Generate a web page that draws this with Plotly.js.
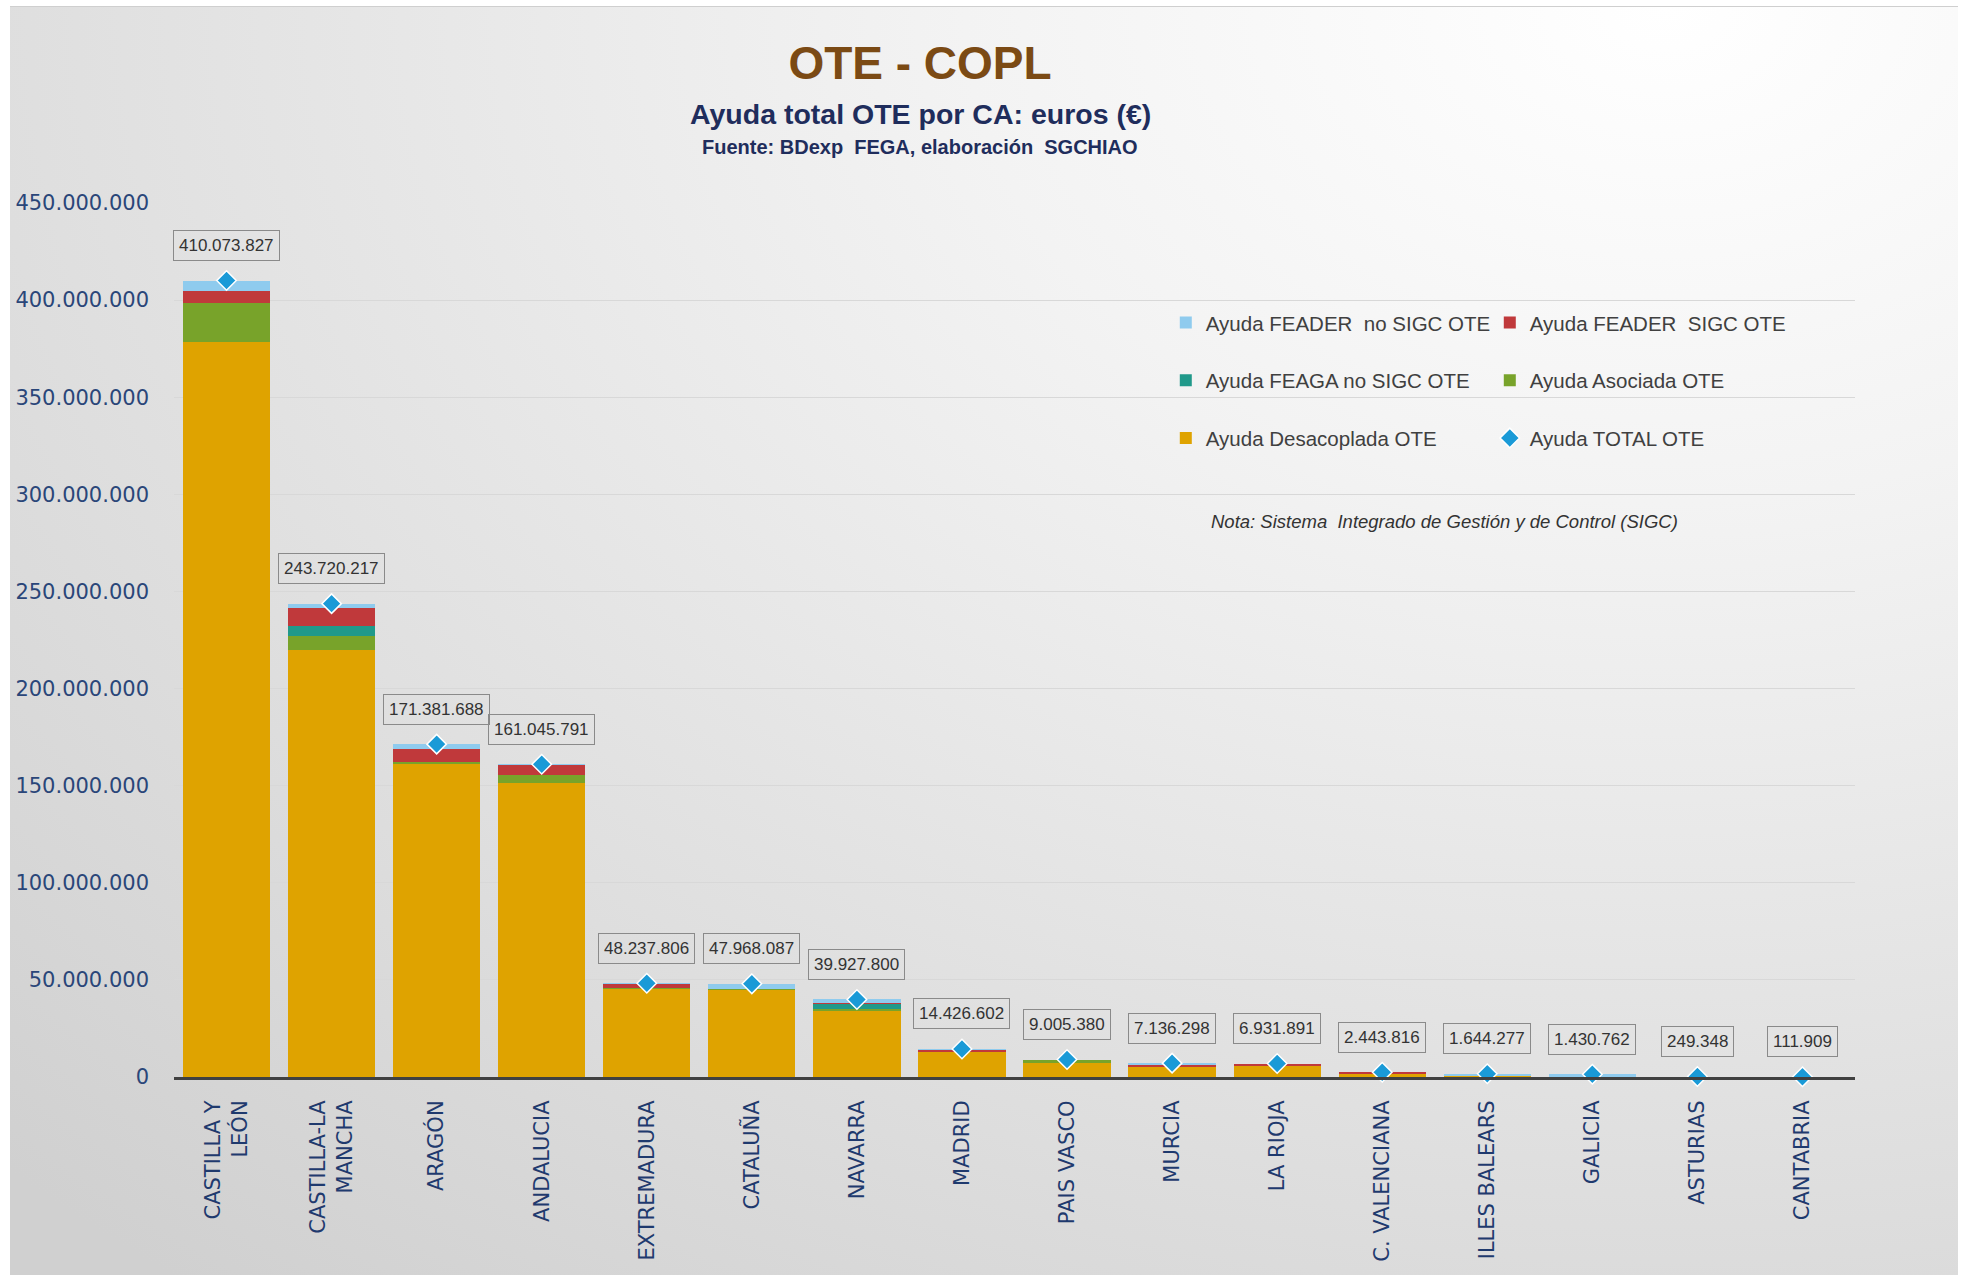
<!DOCTYPE html>
<html>
<head>
<meta charset="utf-8">
<script src="https://cdn.plot.ly/plotly-3.0.1.min.js"></script>
<style>
  html, body { margin: 0; padding: 0; background: #ffffff; }
  #bg { position: absolute; left: 10px; top: 6px; width: 1948px; height: 1268px;
        background: radial-gradient(ellipse 120% 130% at 85% 0%, #ffffff 0%, #f3f3f3 30%, #dedede 72%, #d0d0d0 100%);
        border-top: 1px solid #cfcfcf; }
  #chart { position: absolute; left: 0; top: 0; width: 1968px; height: 1277px; }
</style>
</head>
<body>
<div id="bg"></div>
<div id="chart"></div>
<script>
// ---- data ----
const categories = ['CASTILLA Y<br>LEÓN', 'CASTILLA-LA<br>MANCHA', 'ARAGÓN', 'ANDALUCIA', 'EXTREMADURA',
  'CATALUÑA', 'NAVARRA', 'MADRID', 'PAIS VASCO', 'MURCIA', 'LA RIOJA', 'C. VALENCIANA',
  'ILLES BALEARS', 'GALICIA', 'ASTURIAS', 'CANTABRIA'];

const totals = [410073827, 243720217, 171381688, 161045791, 48237806, 47968087, 39927800, 14426602,
  9005380, 7136298, 6931891, 2443816, 1644277, 1430762, 249348, 111909];

const desacoplada = [378500000, 219900000, 161300000, 151500000, 45500000, 44600000, 34000000, 13000000,
  7400000, 5000000, 5600000, 1400000, 300000, 200000, 150000, 60000];
const asociada = [19900000, 7300000, 1000000, 4000000, 300000, 600000, 1200000, 0,
  1200000, 0, 200000, 0, 0, 0, 0, 0];
const feagaNoSigc = [0, 5000000, 0, 0, 0, 0, 2400000, 0, 0, 0, 0, 0, 0, 0, 0, 0];
const feaderSigc = [6300000, 9100000, 6400000, 5000000, 2000000, 200000, 600000, 1000000,
  0, 1300000, 900000, 1000000, 0, 0, 0, 0];
const feaderNoSigc = [5373827, 2420217, 2681688, 545791, 437806, 2568087, 1727800, 426602,
  405380, 836298, 231891, 43816, 1344277, 1230762, 99348, 51909];

const seriesNames = {
  desacoplada: 'Ayuda Desacoplada OTE',
  asociada: 'Ayuda Asociada OTE',
  feaga: 'Ayuda FEAGA no SIGC OTE',
  feaderSigc: 'Ayuda FEADER\u00a0 SIGC OTE',
  feaderNo: 'Ayuda FEADER\u00a0 no SIGC OTE',
  total: 'Ayuda TOTAL OTE'
};

// ---- styles ----
const C = {
  desacoplada: '#DFA300', asociada: '#78A32A', feaga: '#20998A',
  feaderSigc: '#C0393B', feaderNo: '#8FCBEE', total: '#1A9AD7'
};

function bar(y, name, color, legend, rank) {
  return { type: 'bar', x: categories, y: y, name: name, legend: legend, legendrank: rank,
    marker: { color: color, line: { width: 0 } }, hoverinfo: 'skip' };
}

const traces = [
  bar(desacoplada, seriesNames.desacoplada, C.desacoplada, 'legend3', 1),
  bar(asociada, seriesNames.asociada, C.asociada, 'legend2', 2),
  bar(feagaNoSigc, seriesNames.feaga, C.feaga, 'legend2', 1),
  bar(feaderSigc, seriesNames.feaderSigc, C.feaderSigc, 'legend', 2),
  bar(feaderNoSigc, seriesNames.feaderNo, C.feaderNo, 'legend', 1),
  { type: 'scatter', mode: 'markers', x: categories, y: totals, name: seriesNames.total,
    legend: 'legend3', legendrank: 2, cliponaxis: false, hoverinfo: 'skip',
    marker: { symbol: 'diamond', size: 15, color: C.total, line: { color: '#ffffff', width: 1.5 } } }
];

const fmt = v => v.toString().replace(/\B(?=(\d{3})+(?!\d))/g, '.');

const annotations = categories.map((c, i) => ({
  x: c, y: totals[i], xref: 'x', yref: 'y', text: fmt(totals[i]), showarrow: false,
  yshift: 35, font: { family: 'Liberation Sans, Arial', size: 17, color: '#333333' },
  bordercolor: '#8a8a8a', borderwidth: 1, borderpad: 5, bgcolor: 'rgba(0,0,0,0)'
}));

annotations.push({
  xref: 'paper', yref: 'paper', x: 0.4438, y: 1.1018, xanchor: 'center', yanchor: 'middle',
  showarrow: false, text: '<b>Ayuda total OTE por CA: euros (€)</b>',
  font: { family: 'Liberation Sans, Arial', size: 28.5, color: '#1F2D5C' }
});
annotations.push({
  xref: 'paper', yref: 'paper', x: 0.4438, y: 1.0641, xanchor: 'center', yanchor: 'middle',
  showarrow: false, text: '<b>Fuente: BDexp\u00a0 FEGA, elaboración\u00a0 SGCHIAO</b>',
  font: { family: 'Liberation Sans, Arial', size: 20, color: '#1F2D5C' }
});
annotations.push({
  xref: 'paper', yref: 'paper', x: 0.756, y: 0.636, xanchor: 'center', yanchor: 'middle',
  showarrow: false, text: '<i>Nota: Sistema\u00a0 Integrado de Gestión y de Control (SIGC)</i>',
  font: { family: 'Liberation Sans, Arial', size: 18.5, color: '#333333' }
});

const legendBase = {
  orientation: 'h', xanchor: 'left', yanchor: 'middle', x: 0.590, traceorder: 'normal',
  bgcolor: 'rgba(0,0,0,0)', borderwidth: 0, itemwidth: 30,
  entrywidth: 279, entrywidthmode: 'pixels', itemclick: false, itemdoubleclick: false,
  font: { family: 'Liberation Sans, Arial', size: 20.5, color: '#404040' }
};

const layout = {
  width: 1968, height: 1277,
  margin: { l: 174, r: 113, t: 203, b: 200 },
  paper_bgcolor: 'rgba(0,0,0,0)', plot_bgcolor: 'rgba(0,0,0,0)',
  separators: ',.',
  barmode: 'stack', bargap: 0.17,
  title: { text: '<b>OTE - COPL</b>', x: 0.4675, xanchor: 'center', y: 0.9507, yanchor: 'middle',
    font: { family: 'Liberation Sans, Arial', size: 46, color: '#7B4A14' } },
  xaxis: {
    type: 'category', range: [-0.5, 15.5], tickangle: -90, showgrid: false, showline: true,
    linecolor: '#404040', linewidth: 3, ticks: '', ticklabelstandoff: 12,
    tickfont: { family: 'DejaVu Sans, Verdana', size: 21, color: '#1F3A6E' }
  },
  yaxis: {
    range: [0, 450000000], dtick: 50000000, tickformat: ',d', showline: false, zeroline: false,
    gridcolor: '#d8d8d8', gridwidth: 1, ticks: '', ticklabelstandoff: 24,
    tickfont: { family: 'DejaVu Sans, Verdana', size: 21, color: '#2A4679' }
  },
  legend: Object.assign({}, legendBase, { y: 0.863 }),
  legend2: Object.assign({}, legendBase, { y: 0.797 }),
  legend3: Object.assign({}, legendBase, { y: 0.731 }),
  annotations: annotations,
  showlegend: true
};

Plotly.newPlot('chart', traces, layout, { displayModeBar: false, staticPlot: true });
</script>
</body>
</html>
